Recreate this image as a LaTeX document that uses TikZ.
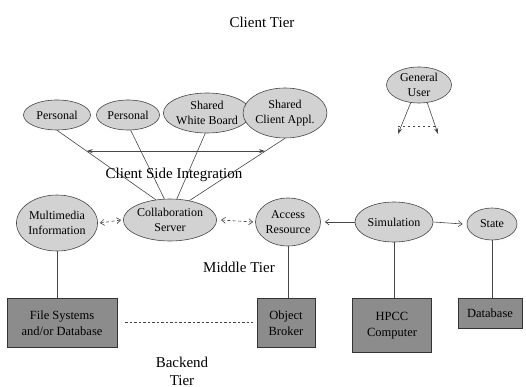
\documentclass[tikz,border=0pt]{standalone}
\usepackage{fontspec}
\setmainfont{Liberation Serif}
\usetikzlibrary{arrows.meta, positioning, shapes.geometric}
\definecolor{EllFill}{RGB}{210,210,210}
\definecolor{BoxFill}{RGB}{140,140,140}
\definecolor{LineGray}{RGB}{70,70,70}

\begin{document}
\begin{tikzpicture}[x=1pt, y=-1pt,
  ell/.style={ellipse, draw=LineGray, fill=EllFill, line width=0.6pt,
              inner sep=0pt, align=center, font=\fontsize{12}{15}\selectfont},
  box/.style={draw=black!80, fill=BoxFill, line width=0.8pt, anchor=north,
              inner sep=0pt, align=center, font=\fontsize{12.5}{16}\selectfont},
  conn/.style={LineGray, line width=0.6pt},
  arr/.style={-{Stealth[length=6pt, width=4pt]}, LineGray, line width=0.6pt},
  dblarr/.style={{Stealth[length=6pt, width=4pt]}-{Stealth[length=6pt, width=4pt]},
                 LineGray, line width=0.6pt},
  barb/.style={-{Straight Barb[length=4pt, width=6pt]}, LineGray, line width=0.6pt},
  dblbarb/.style={{Straight Barb[length=4pt, width=6pt]}-{Straight Barb[length=4pt, width=6pt]},
                  LineGray, line width=0.6pt, dash pattern=on 3pt off 2.5pt},
  tier/.style={font=\fontsize{15}{18}\selectfont, align=center},
]
\useasboundingbox (0,0) rectangle (526,387);

% client tier
\node[tier] (tclient) at (262,22) {Client Tier};
\node[ell, minimum width=67, minimum height=30] (pers1) at (57,115) {Personal};
\node[ell, minimum width=63, minimum height=30] (pers2) at (128,115) {Personal};
\node[ell, minimum width=77, minimum height=40] (wboard) at (207,113) {Shared\\White Board};
\node[ell, minimum width=75, minimum height=50] (sclient) at (285,113) {Shared\\Client Appl.};
\node[ell, minimum width=65, minimum height=36] (guser) at (419,85) {General\\User};

\coordinate (gul) at (398,134);
\coordinate (gur) at (438,134);
\draw[arr] (guser.245) -- (gul);
\draw[arr] (guser.295) -- (gur);
\draw[conn, line width=1pt, dash pattern=on 2pt off 3pt] ([yshift=7]gul) -- ([yshift=7]gur);

% middle tier
\node[ell, minimum width=79, minimum height=56] (mmedia) at (57,223) {Multimedia\\Information};
\node[ell, minimum width=86, minimum height=42] (collab) at (170,220) {Collaboration\\Server};
\node[ell, minimum width=65, minimum height=48] (access) at (288,222) {Access\\Resource};
\node[ell, minimum width=78, minimum height=40] (simul) at (394,222) {Simulation};
\node[ell, minimum width=50, minimum height=32] (state) at (492,224) {State};

\draw[conn] (pers1.south) -- coordinate[pos=0.30] (csl) (collab.125);
\draw[conn] (pers2.280) -- (collab.105);
\draw[conn] (wboard.265) -- (collab.72);
\draw[conn] (sclient.south) -- coordinate[pos=0.21] (csr) (collab.45);
\draw[dblarr] (csl) -- (csl -| csr);
\node[tier] (tside) at (174,175) {Client Side Integration};

\draw[dblbarb] ([xshift=2]mmedia.east) -- ([xshift=-2]collab.west);
\draw[dblbarb] ([xshift=4]collab.east) -- ([xshift=-2]access.west);
\draw[barb] (simul.west) -- ([xshift=4]access.east);
\draw[barb] (simul.east) -- ([xshift=-4]state.west);
\node[tier] (tmiddle) at (239,267) {Middle Tier};

% backend tier
\node[box, minimum width=110, minimum height=49] (fsys) at (62,298) {File Systems\\and/or Database};
\node[box, minimum width=58, minimum height=49] (broker) at (286,298) {Object\\Broker};
\node[box, minimum width=79, minimum height=54] (hpcc) at (392,298) {HPCC\\Computer};
\node[box, minimum width=64, minimum height=30] (dbase) at (490,298) {Database};

\draw[conn] (mmedia.south) -- (mmedia.south |- fsys.north);
\draw[conn] (access.south) -- (access.south |- broker.north);
\draw[conn] (simul.south) -- (simul.south |- hpcc.north);
\draw[conn] (state.south) -- (state.south |- dbase.north);
\draw[conn, line width=1pt, dash pattern=on 2.5pt off 2pt] ([xshift=8]fsys.east) -- ([xshift=-4]broker.west);
\node[tier] (tback) at (182,371) {Backend\\Tier};
\end{tikzpicture}
\end{document}
